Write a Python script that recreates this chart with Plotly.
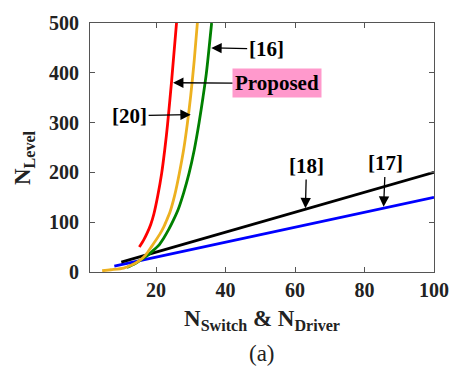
import plotly.graph_objects as go

# Number of levels versus number of switches & drivers for each topology
prop_x = [15.2, 16.5, 17.5, 18.5, 19.4, 20.5, 21.6, 22.5, 23.3, 24.5, 25.9]
prop_y = [50, 65, 79, 96, 117, 153, 197, 245, 295, 385, 500]

ref20_x = [4.5, 7, 10.7, 13, 15.4, 17, 18.9, 21.1, 22.2, 23, 24, 25.4, 26.7, 28, 29, 30, 31, 31.9]
ref20_y = [2.5, 4.5, 8, 14, 24, 34, 53, 76, 90, 103, 120, 155, 198, 248, 297, 355, 425, 500]

ref16_x = [11.6, 14, 15.5, 17.3, 19, 20.7, 22.2, 23.7, 25, 26.4, 28, 29.5, 31, 32.4, 33.5, 34.5, 36]
ref16_y = [9, 17, 24, 32, 42, 53, 68, 86, 104, 126, 160, 198, 245, 300, 350, 400, 500]

ref18_x = [10, 100]
ref18_y = [20, 200]

ref17_x = [8, 100]
ref17_y = [12, 150]

x_ticks = [20, 40, 60, 80, 100]
y_ticks = [0, 100, 200, 300, 400, 500]

SERIF = "Liberation Serif"
AX_COLOR = "#555555"

fig = go.Figure()
series = [
    (ref17_x, ref17_y, "#0000FF"),
    (ref18_x, ref18_y, "#000000"),
    (ref16_x, ref16_y, "#008000"),
    (ref20_x, ref20_y, "#EDB120"),
    (prop_x, prop_y, "#FF0000"),
]
for xs, ys, col in series:
    fig.add_trace(go.Scatter(x=xs, y=ys, mode="lines",
                             line=dict(color=col, width=2.8, shape="spline", smoothing=0.8),
                             showlegend=False, hoverinfo="skip"))

ann_font = dict(family=SERIF, size=21, color="black", weight="bold")


def tag(text, tx, ty, hx, hy, **kw):
    fig.add_annotation(x=hx, y=hy, ax=tx, ay=ty, axref="x", ayref="y",
                       xref="x", yref="y", text=text, font=ann_font,
                       showarrow=True, arrowhead=2, arrowsize=1.6,
                       arrowwidth=1.3, arrowcolor="black", **kw)


tag("[16]", 51.7, 448, 35.9, 450)
tag("Proposed", 54.8, 379, 24.9, 380, bgcolor="#FF99CC", borderpad=2)
tag("[20]", 12.4, 314, 30.0, 316)
tag("[18]", 63.3, 213, 63.0, 128)
tag("[17]", 86.0, 218, 85.5, 131)

# Axis titles and caption
fig.add_annotation(xref="paper", yref="paper", x=0.5, y=-0.13,
                   xanchor="center", yanchor="top", showarrow=False,
                   text="N<sub>Switch</sub> & N<sub>Driver</sub>",
                   font=dict(family=SERIF, size=23, color="#222222", weight="bold"))
fig.add_annotation(xref="paper", yref="paper", x=0.5, y=-0.27,
                   xanchor="center", yanchor="top", showarrow=False,
                   text="(a)", font=dict(family=SERIF, size=23, color="#222222"))
fig.add_annotation(xref="paper", yref="paper", x=-0.19, y=0.46,
                   xanchor="center", yanchor="middle", showarrow=False,
                   textangle=-90, text="N<sub>Level</sub>",
                   font=dict(family=SERIF, size=23, color="#222222", weight="bold"))

axis_common = dict(showline=True, linecolor=AX_COLOR, linewidth=1.2,
                   mirror="ticks", ticks="inside", ticklen=5, tickwidth=1.2,
                   tickcolor=AX_COLOR, showgrid=False, zeroline=False,
                   tickfont=dict(family=SERIF, size=20, color="#222222", weight="bold"))

fig.update_xaxes(range=[1, 100], tickvals=x_ticks, ticktext=[str(v) for v in x_ticks],
                 **axis_common)
fig.update_yaxes(range=[0, 500], tickvals=y_ticks, ticktext=[str(v) for v in y_ticks],
                 ticklabelstandoff=6, **axis_common)

fig.update_layout(width=461, height=373, margin=dict(l=90, r=25, t=14, b=101),
                  plot_bgcolor="white", paper_bgcolor="white")

fig.write_html("out.html")
